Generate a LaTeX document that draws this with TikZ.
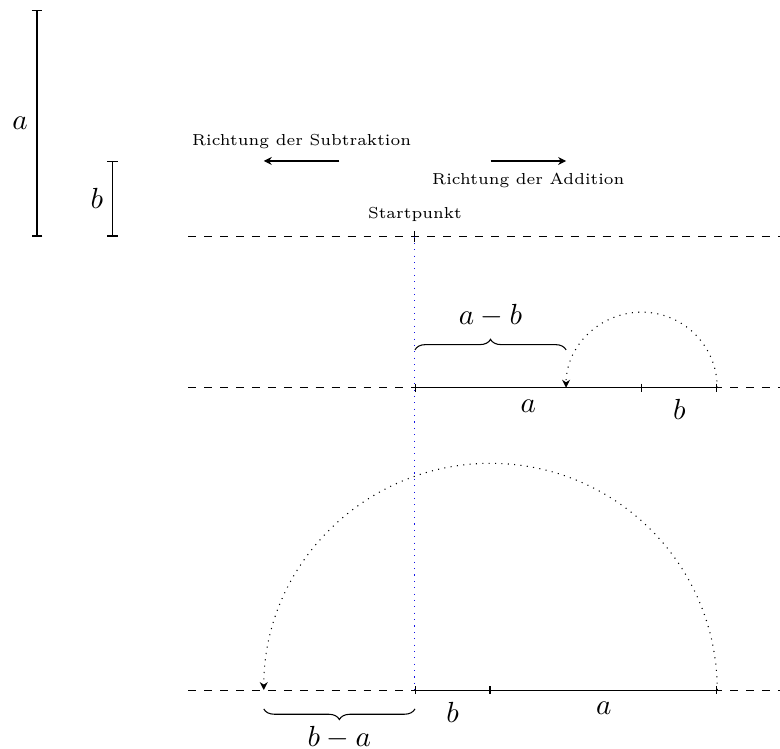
\documentclass[tikz,border=0pt]{standalone}
\usepackage{xcolor}
\definecolor{guide}{RGB}{20,20,230}
\usepackage{tikz}
\usetikzlibrary{arrows.meta,positioning,calc,decorations.pathreplacing}
\tikzset{
  numline/.style={dashed},
  seg/.style={{Bar[width=3pt]}-{Bar[width=3pt]}},
  lenbar/.style={{Bar[width=4pt]}-{Bar[width=4pt]}},
  jump/.style={dotted,-{Stealth[length=3pt,width=3pt]}},
  dirarrow/.style={-{Stealth[length=3pt,width=3pt]}},
  dirlabel/.style={font=\fontsize{6}{7.5}\selectfont},
  seglabel/.style={font=\fontsize{11}{13}\selectfont},
  measbrace/.style={decorate,decoration={brace,amplitude=4pt}},
}

\begin{document}
\begin{tikzpicture}
\useasboundingbox (-5.49,-6.78) rectangle (4.83,3.13);

%% Strecken a und b
\coordinate (a0) at (-5,0);
\coordinate (a1) at (-5,3);
\coordinate (b0) at (-4,0);
\coordinate (b1) at (-4,1);
\draw[lenbar] (a0) -- node[left,seglabel] (la) {$a$} (a1);
\draw[lenbar] (b0) -- node[left,seglabel] (lb) {$b$} (b1);

%% Richtungen
\coordinate (sub0) at (-1,1);
\coordinate (sub1) at (-2,1);
\coordinate (add0) at (1,1);
\coordinate (add1) at (2,1);
\draw[dirarrow] (sub0) -- node[above=1pt,dirlabel] (lsub) {Richtung der Subtraktion} (sub1);
\draw[dirarrow] (add0) -- node[below=1pt,dirlabel] (ladd) {Richtung der Addition} (add1);

%% Zahlengeraden
\coordinate (l0w) at (-3,0);   \coordinate (l0e) at (4.83,0);
\coordinate (l1w) at (-3,-2);  \coordinate (l1e) at (4.83,-2);
\coordinate (l2w) at (-3,-6);  \coordinate (l2e) at (4.83,-6);
\coordinate (s0) at (0,0);
\coordinate (s1) at (0,-2);
\coordinate (s2) at (0,-6);
\draw[numline] (l0w) -- (l0e);
\draw[numline] (l1w) -- (l1e);
\draw[numline] (l2w) -- (l2e);
\draw ([yshift=2pt]s0) -- ([yshift=-2pt]s0);
\node[above=2pt,dirlabel] (start) at (s0) {Startpunkt};
\draw[guide,dotted] (s0) -- (s2);

%% a - b
\coordinate (p1a) at (3,-2);
\coordinate (p1b) at (4,-2);
\coordinate (r1) at (2,-2);
\draw[seg] (s1) -- node[below=1pt,seglabel] (l1a) {$a$} (p1a);
\draw[-{Bar[width=3pt]}] (p1a) -- node[below=1pt,seglabel] (l1b) {$b$} (p1b);
\draw[jump] (p1b) arc[start angle=0,end angle=180,radius=1];
\coordinate (br1w) at (0,-1.5);
\coordinate (br1e) at (2,-1.5);
\draw[measbrace] (br1w) -- node[above=5pt,seglabel] (amb) {$a-b$} (br1e);

%% b - a
\coordinate (p2a) at (1,-6);
\coordinate (p2b) at (4,-6);
\coordinate (r2) at (-2,-6);
\draw[seg] (s2) -- node[below=1pt,seglabel] (l2b) {$b$} (p2a);
\draw[-{Bar[width=3pt]}] (p2a) -- node[below=1pt,seglabel] (l2a) {$a$} (p2b);
\draw[jump] (p2b) arc[start angle=0,end angle=180,radius=3];
\coordinate (br2e) at (0,-6.25);
\coordinate (br2w) at (-2,-6.25);
\draw[measbrace] (br2e) -- node[below=3pt,seglabel] (bma) {$b-a$} (br2w);
\end{tikzpicture}
\end{document}
